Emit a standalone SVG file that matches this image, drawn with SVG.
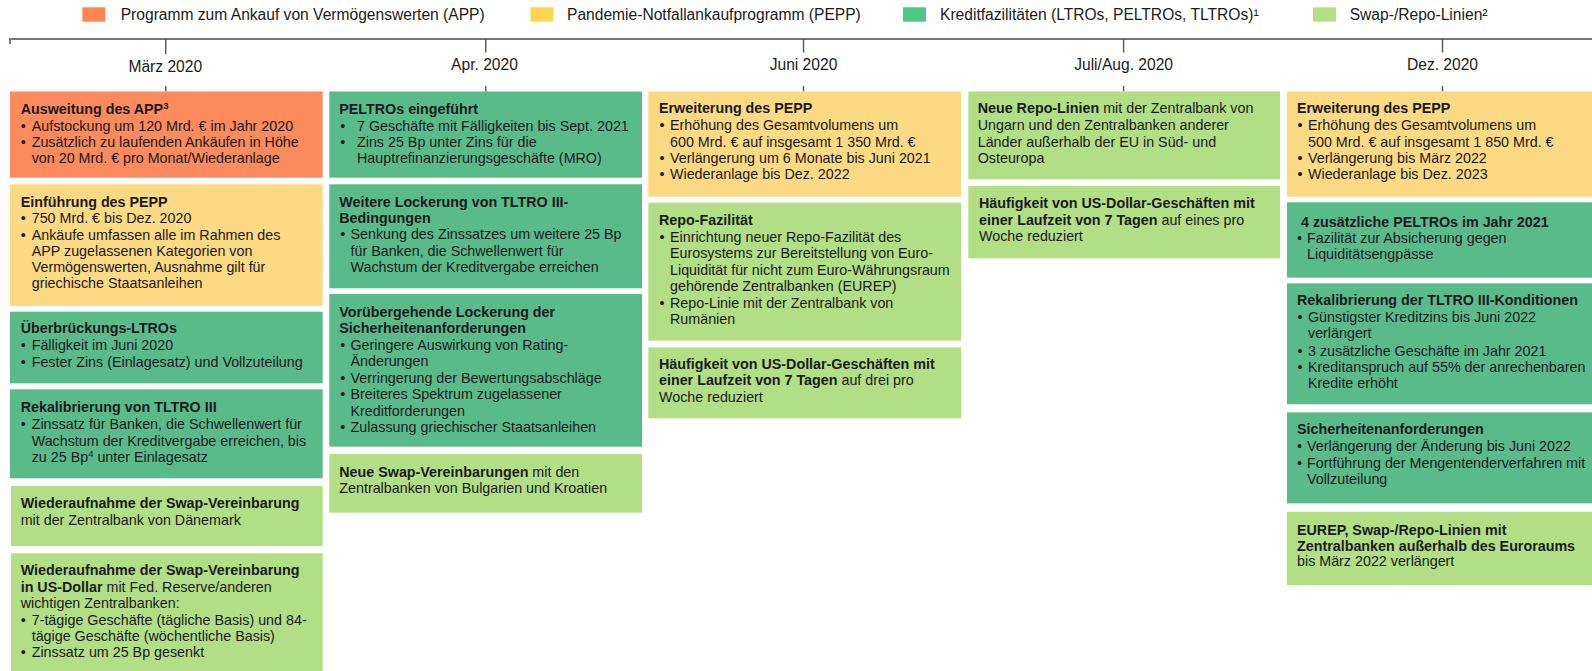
<svg xmlns="http://www.w3.org/2000/svg" width="1592" height="671" viewBox="0 0 1592 671">
<style>
text{font-family:"Liberation Sans",Arial,"DejaVu Sans",sans-serif;fill:#1a1a1a}
.t{font-size:14.3px}
.b{font-size:14.3px;font-weight:bold}
.bb{font-weight:bold}
.lg{font-size:15.6px}
.sup{font-size:9.5px}
.app{fill:#FB8A5C}
.pepp{fill:#FCD983}
.kf{fill:#5ABB8A}
.sw{fill:#B2DE86}
.tl{stroke:#767676;stroke-width:2;fill:none}
.tk{stroke:#555;stroke-width:1.4;fill:none}
</style>
<rect width="1592" height="671" fill="#ffffff"/>
<g id="legend">
<rect x="82.3" y="7.3" width="23" height="14.4" fill="#FF8650"/>
<text class="lg" x="120.7" y="19.5">Programm zum Ankauf von Vermögenswerten (APP)</text>
<rect x="530.6" y="7.3" width="23" height="14.4" fill="#FFD54F"/>
<text class="lg" x="567" y="19.5">Pandemie-Notfallankaufprogramm (PEPP)</text>
<rect x="903" y="7.3" width="23" height="14.4" fill="#4DC886"/>
<text class="lg" x="940" y="19.5">Kreditfazilitäten (LTROs, PELTROs, TLTROs)¹</text>
<rect x="1313" y="7.3" width="23" height="14.4" fill="#B4E084"/>
<text class="lg" x="1349.7" y="19.5">Swap-/Repo-Linien²</text>
</g>
<g id="connectors">
<path class="tl" d="M10,44 V39 H1592"/>
<path class="tk" d="M165.7,39 V54 M165.7,86 V91.5"/>
<path class="tk" d="M485.7,39 V52.5 M485.7,86 V91.5"/>
<path class="tk" d="M803.5,39 V52.5 M803.5,86 V91.5"/>
<path class="tk" d="M1123.6,39 V52.5 M1123.6,86 V91.5"/>
<path class="tk" d="M1442.5,39 V52.5 M1442.5,86 V91.5"/>
</g>
<g id="dates" text-anchor="middle">
<text class="lg" x="165.3" y="72">März 2020</text>
<text class="lg" x="484.5" y="70.3">Apr. 2020</text>
<text class="lg" x="803.5" y="70.3">Juni 2020</text>
<text class="lg" x="1123.6" y="70.3">Juli/Aug. 2020</text>
<text class="lg" x="1442.5" y="70.3">Dez. 2020</text>
</g>

<g id="m1">
<rect class="app" x="10" y="91.5" width="312.7" height="86.2"/>
<text class="b" x="20.7" y="114.3">Ausweitung des APP<tspan class="sup" dy="-5">3</tspan></text>
<text class="t" x="20.7" y="130.7">•</text><text class="t" x="31.7" y="130.7">Aufstockung um 120 Mrd. € im Jahr 2020</text>
<text class="t" x="20.7" y="147">•</text><text class="t" x="31.7" y="147">Zusätzlich zu laufenden Ankäufen in Höhe</text>
<text class="t" x="31.7" y="163.3">von 20 Mrd. € pro Monat/Wiederanlage</text>
</g>
<g id="m2">
<rect class="pepp" x="10" y="184.3" width="312.7" height="121.7"/>
<text class="b" x="20.7" y="207">Einführung des PEPP</text>
<text class="t" x="20.7" y="223.3">•</text><text class="t" x="31.7" y="223.3">750 Mrd. € bis Dez. 2020</text>
<text class="t" x="20.7" y="239.5">•</text><text class="t" x="31.7" y="239.5">Ankäufe umfassen alle im Rahmen des</text>
<text class="t" x="31.7" y="255.8">APP zugelassenen Kategorien von</text>
<text class="t" x="31.7" y="272">Vermögenswerten, Ausnahme gilt für</text>
<text class="t" x="31.7" y="288.3">griechische Staatsanleihen</text>
</g>
<g id="m3">
<rect class="kf" x="10" y="311.7" width="312.7" height="71.6"/>
<text class="b" x="20.7" y="333.3">Überbrückungs-LTROs</text>
<text class="t" x="20.7" y="350">•</text><text class="t" x="31.7" y="350">Fälligkeit im Juni 2020</text>
<text class="t" x="20.7" y="366.5">•</text><text class="t" x="31.7" y="366.5">Fester Zins (Einlagesatz) und Vollzuteilung</text>
</g>
<g id="m4">
<rect class="kf" x="10" y="389.3" width="312.7" height="89"/>
<text class="b" x="20.7" y="411.7">Rekalibrierung von TLTRO III</text>
<text class="t" x="20.7" y="429">•</text><text class="t" x="31.7" y="429">Zinssatz für Banken, die Schwellenwert für</text>
<text class="t" x="31.7" y="445.5">Wachstum der Kreditvergabe erreichen, bis</text>
<text class="t" x="31.7" y="461.8">zu 25 Bp<tspan class="sup" dy="-5">4</tspan><tspan dy="5"> unter Einlagesatz</tspan></text>
</g>
<g id="m5">
<rect class="sw" x="11" y="486" width="311.7" height="60"/>
<text class="b" x="20.7" y="508.3">Wiederaufnahme der Swap-Vereinbarung</text>
<text class="t" x="20.7" y="524.5">mit der Zentralbank von Dänemark</text>
</g>
<g id="m6">
<rect class="sw" x="11" y="553.3" width="311.7" height="117.7"/>
<text class="b" x="20.7" y="575">Wiederaufnahme der Swap-Vereinbarung</text>
<text class="t" x="20.7" y="591.5"><tspan class="bb">in US-Dollar</tspan> mit Fed. Reserve/anderen</text>
<text class="t" x="20.7" y="608">wichtigen Zentralbanken:</text>
<text class="t" x="20.7" y="624.5">•</text><text class="t" x="31.7" y="624.5">7-tägige Geschäfte (tägliche Basis) und 84-</text>
<text class="t" x="31.7" y="641">tägige Geschäfte (wöchentliche Basis)</text>
<text class="t" x="20.7" y="657.3">•</text><text class="t" x="31.7" y="657.3">Zinssatz um 25 Bp gesenkt</text>
</g>

<g id="a1">
<rect class="kf" x="329.3" y="91.5" width="312.7" height="86.2"/>
<text class="b" x="339.3" y="113.5">PELTROs eingeführt</text>
<text class="t" x="340.3" y="130.7">•</text><text class="t" x="357" y="130.7">7 Geschäfte mit Fälligkeiten bis Sept. 2021</text>
<text class="t" x="340.3" y="147">•</text><text class="t" x="357" y="147">Zins 25 Bp unter Zins für die</text>
<text class="t" x="357" y="163.3">Hauptrefinanzierungsgeschäfte (MRO)</text>
</g>
<g id="a2">
<rect class="kf" x="329.3" y="184.3" width="312.7" height="104"/>
<text class="b" x="339.3" y="206.7">Weitere Lockerung von TLTRO III-</text>
<text class="b" x="339.3" y="223">Bedingungen</text>
<text class="t" x="340.3" y="239.3">•</text><text class="t" x="350.5" y="239.3">Senkung des Zinssatzes um weitere 25 Bp</text>
<text class="t" x="350.5" y="255.7">für Banken, die Schwellenwert für</text>
<text class="t" x="350.5" y="272">Wachstum der Kreditvergabe erreichen</text>
</g>
<g id="a3">
<rect class="kf" x="329.3" y="294" width="312.7" height="152.7"/>
<text class="b" x="339.3" y="316.7">Vorübergehende Lockerung der</text>
<text class="b" x="339.3" y="332.8">Sicherheitenanforderungen</text>
<text class="t" x="340.3" y="349.5">•</text><text class="t" x="350.5" y="349.5">Geringere Auswirkung von Rating-</text>
<text class="t" x="350.5" y="366">Änderungen</text>
<text class="t" x="340.3" y="382.5">•</text><text class="t" x="350.5" y="382.5">Verringerung der Bewertungsabschläge</text>
<text class="t" x="340.3" y="399">•</text><text class="t" x="350.5" y="399">Breiteres Spektrum zugelassener</text>
<text class="t" x="350.5" y="415.5">Kreditforderungen</text>
<text class="t" x="340.3" y="431.8">•</text><text class="t" x="350.5" y="431.8">Zulassung griechischer Staatsanleihen</text>
</g>
<g id="a4">
<rect class="sw" x="329.3" y="454" width="312.7" height="58.7"/>
<text class="t" x="339.3" y="476.7"><tspan class="bb">Neue Swap-Vereinbarungen</tspan> mit den</text>
<text class="t" x="339.3" y="493.3">Zentralbanken von Bulgarien und Kroatien</text>
</g>

<g id="j1">
<rect class="pepp" x="648.3" y="91.5" width="312.7" height="105.2"/>
<text class="b" x="659" y="113.3">Erweiterung des PEPP</text>
<text class="t" x="659.5" y="130">•</text><text class="t" x="670" y="130">Erhöhung des Gesamtvolumens um</text>
<text class="t" x="670" y="146.5">600 Mrd. € auf insgesamt 1 350 Mrd. €</text>
<text class="t" x="659.5" y="163">•</text><text class="t" x="670" y="163">Verlängerung um 6 Monate bis Juni 2021</text>
<text class="t" x="659.5" y="179">•</text><text class="t" x="670" y="179">Wiederanlage bis Dez. 2022</text>
</g>
<g id="j2">
<rect class="sw" x="648.3" y="202.7" width="312.7" height="138"/>
<text class="b" x="659" y="225">Repo-Fazilität</text>
<text class="t" x="659.5" y="241.5">•</text><text class="t" x="670" y="241.5">Einrichtung neuer Repo-Fazilität des</text>
<text class="t" x="670" y="258">Eurosystems zur Bereitstellung von Euro-</text>
<text class="t" x="670" y="274.5">Liquidität für nicht zum Euro-Währungsraum</text>
<text class="t" x="670" y="291">gehörende Zentralbanken (EUREP)</text>
<text class="t" x="659.5" y="307.5">•</text><text class="t" x="670" y="307.5">Repo-Linie mit der Zentralbank von</text>
<text class="t" x="670" y="323.5">Rumänien</text>
</g>
<g id="j3">
<rect class="sw" x="648.3" y="347.3" width="312.7" height="71"/>
<text class="b" x="659" y="368.5">Häufigkeit von US-Dollar-Geschäften mit</text>
<text class="t" x="659" y="385"><tspan class="bb">einer Laufzeit von 7 Tagen</tspan> auf drei pro</text>
<text class="t" x="659" y="401.5">Woche reduziert</text>
</g>

<g id="ja1">
<rect class="sw" x="968.3" y="91.5" width="311.7" height="87.8"/>
<text class="t" x="977.7" y="113.3"><tspan class="bb">Neue Repo-Linien</tspan> mit der Zentralbank von</text>
<text class="t" x="977.7" y="130">Ungarn und den Zentralbanken anderer</text>
<text class="t" x="977.7" y="146.5">Länder außerhalb der EU in Süd- und</text>
<text class="t" x="977.7" y="163">Osteuropa</text>
</g>
<g id="ja2">
<rect class="sw" x="968.3" y="186" width="311.7" height="72.3"/>
<text class="b" x="979" y="208.3">Häufigkeit von US-Dollar-Geschäften mit</text>
<text class="t" x="979" y="225"><tspan class="bb">einer Laufzeit von 7 Tagen</tspan> auf eines pro</text>
<text class="t" x="979" y="241">Woche reduziert</text>
</g>

<g id="d1">
<rect class="pepp" x="1287" y="91.5" width="305" height="105.2"/>
<text class="b" x="1297" y="113.3">Erweiterung des PEPP</text>
<text class="t" x="1297.5" y="130">•</text><text class="t" x="1308" y="130">Erhöhung des Gesamtvolumens um</text>
<text class="t" x="1308" y="146.5">500 Mrd. € auf insgesamt 1 850 Mrd. €</text>
<text class="t" x="1297.5" y="163">•</text><text class="t" x="1308" y="163">Verlängerung bis März 2022</text>
<text class="t" x="1297.5" y="179">•</text><text class="t" x="1308" y="179">Wiederanlage bis Dez. 2023</text>
</g>
<g id="d2">
<rect class="kf" x="1287" y="202.3" width="305" height="75.4"/>
<text class="b" x="1301" y="226.7">4 zusätzliche PELTROs im Jahr 2021</text>
<text class="t" x="1297" y="243.3">•</text><text class="t" x="1307" y="243.3">Fazilität zur Absicherung gegen</text>
<text class="t" x="1307" y="259.3">Liquiditätsengpässe</text>
</g>
<g id="d3">
<rect class="kf" x="1287" y="283.3" width="305" height="121"/>
<text class="b" x="1297" y="305">Rekalibrierung der TLTRO III-Konditionen</text>
<text class="t" x="1297.5" y="321.7">•</text><text class="t" x="1308" y="321.7">Günstigster Kreditzins bis Juni 2022</text>
<text class="t" x="1308" y="338.3">verlängert</text>
<text class="t" x="1297.5" y="355.5">•</text><text class="t" x="1308" y="355.5">3 zusätzliche Geschäfte im Jahr 2021</text>
<text class="t" x="1297.5" y="371.7">•</text><text class="t" x="1308" y="371.7">Kreditanspruch auf 55% der anrechenbaren</text>
<text class="t" x="1308" y="388.3">Kredite erhöht</text>
</g>
<g id="d4">
<rect class="kf" x="1287" y="412.3" width="305" height="91"/>
<text class="b" x="1297" y="434.3">Sicherheitenanforderungen</text>
<text class="t" x="1297" y="451">•</text><text class="t" x="1307" y="451">Verlängerung der Änderung bis Juni 2022</text>
<text class="t" x="1297" y="467.5">•</text><text class="t" x="1307" y="467.5">Fortführung der Mengentenderverfahren mit</text>
<text class="t" x="1307" y="483.5">Vollzuteilung</text>
</g>
<g id="d5">
<rect class="sw" x="1287" y="511.7" width="305" height="73.3"/>
<text class="b" x="1297" y="535">EUREP, Swap-/Repo-Linien mit</text>
<text class="b" x="1297" y="550.5">Zentralbanken außerhalb des Euroraums</text>
<text class="t" x="1297" y="566">bis März 2022 verlängert</text>
</g>
</svg>
